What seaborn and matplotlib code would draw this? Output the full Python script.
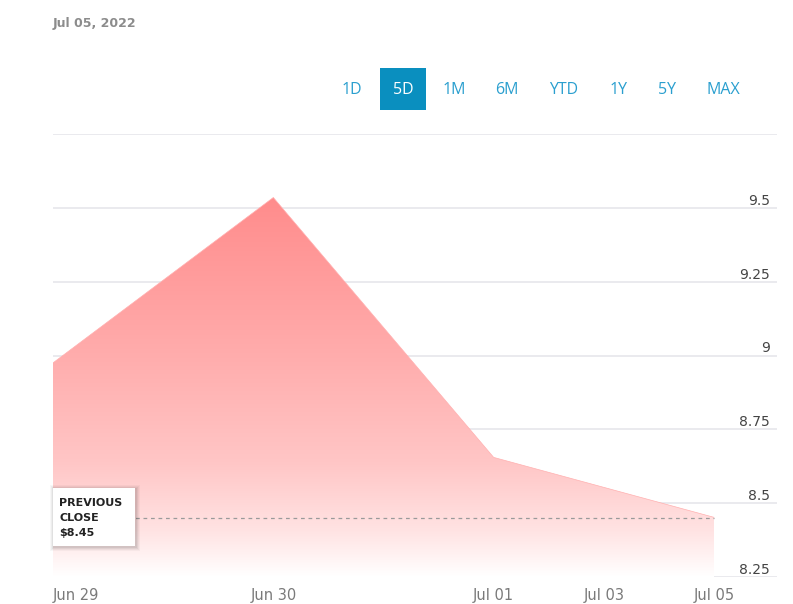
import numpy as np
import pandas as pd
import matplotlib
matplotlib.use("Agg")
import matplotlib.pyplot as plt
import seaborn as sns
from matplotlib.patches import Rectangle, Polygon
from matplotlib.colors import LinearSegmentedColormap

# ---- data ----
days = ["Jun 29", "Jun 30", "Jul 01", "Jul 05"]
day_pos = [0, 1, 2, 3]
prices = [8.975, 9.535, 8.655, 8.452]
tick_pos = [0, 1, 2, 2.5, 3]
tick_labels = ["Jun 29", "Jun 30", "Jul 01", "Jul 03", "Jul 05"]
y_ticks = [8.25, 8.5, 8.75, 9.0, 9.25, 9.5, 9.75]
y_tick_labels = ["8.25", "8.5", "8.75", "9", "9.25", "9.5", ""]
prev_close = 8.45
ranges = ["1D", "5D", "1M", "6M", "YTD", "1Y", "5Y", "MAX"]
range_x_px = [352, 403, 454, 507, 564, 619, 667, 723]
date_title = "Jul 05, 2022"

sns.set_theme(style="white")
plt.rcParams["font.family"] = ["DejaVu Sans"]

W, H = 793, 604
fig = plt.figure(figsize=(W / 100, H / 100), dpi=100)
L, R, B, T = 53, 777, 577, 134
ax = fig.add_axes([L / W, 1 - B / H, (R - L) / W, (B - T) / H])

df = pd.DataFrame({"day": day_pos, "price": prices})
xmax = 3 + (R - 714) / ((714 - 53) / 3)

# line (very light, blends with the fill edge)
sns.lineplot(data=df, x="day", y="price", ax=ax, color="#ffb0b0", lw=0.5, zorder=3)

# gradient fill clipped by area polygon
poly_pts = [(0, 8.25)] + list(zip(day_pos, prices)) + [(3, 8.25)]
poly = Polygon(poly_pts, closed=True, facecolor="none", edgecolor="none",
               transform=ax.transData)
ax.add_patch(poly)
cmap = LinearSegmentedColormap.from_list(
    "g", [(0.0, "#ffffff"), (0.12, "#ffe3e3"), (0.3, "#ffc6c6"),
          (0.6, "#ffabab"), (1.0, "#ff8c8c")])
grad = np.linspace(0, 1, 256).reshape(-1, 1)
im = ax.imshow(grad, cmap=cmap, origin="lower", aspect="auto",
               extent=[0, 3, 8.25, max(prices)], zorder=2, interpolation="bilinear")
im.set_clip_path(poly)
ax.set_xlim(0, xmax)
ax.set_ylim(8.25, 9.75)

# gridlines
for yv in y_ticks:
    ax.axhline(yv, color="#e4e4ea", lw=1.1, zorder=1)

# previous close dashed line
ax.plot([0, 3], [prev_close, prev_close], ls=(0, (3, 3)), color="#9a9a9a",
        lw=0.9, zorder=4)

for s in ax.spines.values():
    s.set_visible(False)
ax.set_xlabel("")
ax.set_ylabel("")
ax.grid(False)

ax.set_xticks(tick_pos)
ax.set_xticklabels(tick_labels)
ax.tick_params(axis="x", length=0, pad=8, labelsize=10.5, labelcolor="#7a7a7a")
ax.get_xticklabels()[0].set_ha("left")

ax.yaxis.tick_right()
ax.set_yticks(y_ticks)
ax.set_yticklabels(y_tick_labels)
ax.tick_params(axis="y", length=0, pad=-5, labelsize=10, labelcolor="#444444")
for lbl in ax.get_yticklabels():
    lbl.set_ha("right")
    lbl.set_va("bottom")

# previous close box with soft shadow
bx0, by0, bx1, by1 = 53, 488, 135, 546
for i, a in enumerate([0.03, 0.04, 0.05, 0.06]):
    d = 4 - i
    fig.patches.append(Rectangle(((bx0 - d + 1) / W, 1 - (by1 + d + 1) / H),
                                 (bx1 - bx0 + 2 * d) / W, (by1 - by0 + 2 * d) / H,
                                 transform=fig.transFigure, facecolor="black",
                                 edgecolor="none", alpha=a, zorder=5))
box = Rectangle((bx0 / W, 1 - by1 / H), (bx1 - bx0) / W, (by1 - by0) / H,
                transform=fig.transFigure, facecolor="white", edgecolor="none",
                zorder=6)
fig.patches.append(box)
for txt, yy in zip(["PREVIOUS", "CLOSE", "$8.45"], [503, 518, 533]):
    fig.text(59 / W, 1 - yy / H, txt, fontsize=8, fontweight="bold",
             color="#222222", ha="left", va="center", zorder=7)

# date title
fig.text(53 / W, 1 - 24 / H, date_title, fontsize=9, fontweight="bold",
         color="#8c8c8c", ha="left", va="center")

# range buttons
fig.patches.append(Rectangle((380 / W, 1 - 110 / H), 46 / W, 42 / H,
                             transform=fig.transFigure, facecolor="#0a8fbf",
                             edgecolor="none"))
for lab, xp in zip(ranges, range_x_px):
    fig.text(xp / W, 1 - 90 / H, lab, fontsize=11.5,
             color="white" if lab == "5D" else "#2a9fcf",
             ha="center", va="center", family=["Open Sans", "DejaVu Sans"])

fig.savefig("out.png", dpi=100)
